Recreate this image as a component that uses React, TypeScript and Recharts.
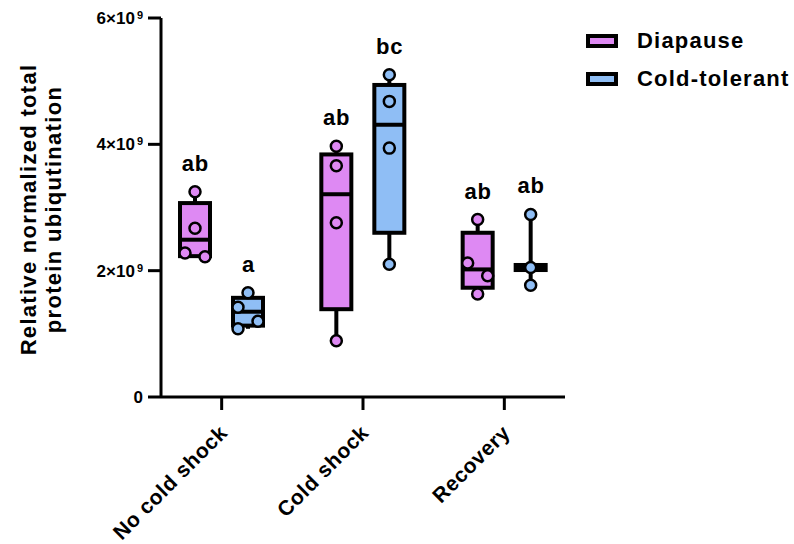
import React from 'react';
import { ComposedChart, Bar, XAxis, YAxis, Legend } from 'recharts';

const categories = ['No cold shock', 'Cold shock', 'Recovery'];
// all values in units of 10^9
const diapausePoints = [
  [3.25, 2.67, 2.28, 2.22],
  [3.97, 3.66, 2.76, 0.89],
  [2.81, 2.12, 1.92, 1.63],
];
const coldPoints = [
  [1.65, 1.42, 1.2, 1.08],
  [5.1, 4.68, 3.94, 2.1],
  [2.89, 2.05, 1.77],
];
const diapauseQ1 = [2.23, 1.39, 1.73];
const diapauseMedian = [2.49, 3.21, 2.02];
const diapauseQ3 = [3.07, 3.84, 2.6];
const coldQ1 = [1.13, 2.6, 2.01];
const coldMedian = [1.35, 4.31, 2.05];
const coldQ3 = [1.57, 4.94, 2.09];
const diapauseLetters = ['ab', 'ab', 'ab'];
const coldLetters = ['a', 'bc', 'ab'];
const yTicks = [0, 2, 4, 6];

const PINK = '#DE89F3';
const BLUE = '#8FBEF5';
const FONT = '"Liberation Sans", Arial, sans-serif';

const rows = categories.map((name, i) => ({
  name,
  d: { points: diapausePoints[i], q1: diapauseQ1[i], median: diapauseMedian[i], q3: diapauseQ3[i], letter: diapauseLetters[i] },
  c: { points: coldPoints[i], q1: coldQ1[i], median: coldMedian[i], q3: coldQ3[i], letter: coldLetters[i] },
}));

const range = (key: 'd' | 'c') => (row: any) => [Math.min(...row[key].points), Math.max(...row[key].points)];

const BoxShape = (props: any) => {
  const { x, y, width, height, payload, group, color } = props;
  const s = payload[group];
  const lo = Math.min(...s.points);
  const hi = Math.max(...s.points);
  const top = Math.min(y, y + height);
  const bottom = Math.max(y, y + height);
  const py = (v: number) => (hi === lo ? bottom : bottom - ((v - lo) / (hi - lo)) * (bottom - top));
  const cx = x + width / 2;

  // simple spread of overlapping dots, like Prism's scatter
  const pts = s.points.map((v: number) => ({ v, y: py(v), dx: 0 })).sort((a: any, b: any) => a.y - b.y);
  let cluster: any[] = [];
  const flush = () => {
    if (cluster.length > 1) cluster.forEach((p, k) => (p.dx = k % 2 === 0 ? -10 : 10));
    cluster = [];
  };
  pts.forEach((p: any, k: number) => {
    if (k > 0 && p.y - pts[k - 1].y >= 14.2) flush();
    cluster.push(p);
  });
  flush();

  return (
    <g>
      <line x1={cx} x2={cx} y1={py(hi)} y2={py(lo)} stroke="#000" strokeWidth={4} />
      <rect x={x} y={py(s.q3)} width={width} height={py(s.q1) - py(s.q3)} fill={color} stroke="#000" strokeWidth={4} />
      <line x1={x} x2={x + width} y1={py(s.median)} y2={py(s.median)} stroke="#000" strokeWidth={4} />
      {pts.map((p: any, k: number) => (
        <circle key={k} cx={cx + p.dx} cy={p.y} r={5.5} fill={color} stroke="#000" strokeWidth={2.5} />
      ))}
      <text x={cx + 0.4} y={py(hi) - 21} textAnchor="middle" fontSize={22} letterSpacing={0.8} fontWeight="bold" fontFamily={FONT} fill="#000">
        {s.letter}
      </text>
    </g>
  );
};

const XTick = ({ x, y, payload }: any) => {
  const ax = x + 7;
  const ay = y + 22;
  return (
    <text x={ax} y={ay} transform={`rotate(-45 ${ax} ${ay})`} textAnchor="end" fontSize={21} letterSpacing={0.6} fontWeight="bold" fontFamily={FONT} fill="#000">
      {payload.value}
    </text>
  );
};

const YTick = ({ x, y, payload }: any) => {
  const v = payload.value;
  return (
    <text x={x - 3} y={y + 6} textAnchor="end" fontSize={17} fontWeight="bold" fontFamily={FONT} fill="#000">
      {v === 0 ? '0' : (
        <>
          <tspan>{`${v}×10`}</tspan>
          <tspan dx={2} dy={-5} fontSize={11}>9</tspan>
        </>
      )}
    </text>
  );
};

const YTitle = ({ viewBox }: any) => {
  const cy = viewBox.y + viewBox.height / 2 + 2;
  return (
    <g fontFamily={FONT} fontWeight="bold" fontSize={22} letterSpacing={1.3} fill="#000">
      <text x={36} y={cy} transform={`rotate(-90 36 ${cy})`} textAnchor="middle">Relative normalized total</text>
      <text x={61} y={cy} transform={`rotate(-90 61 ${cy})`} textAnchor="middle">protein ubiqutination</text>
    </g>
  );
};

const legendItems = [
  { label: 'Diapause', color: PINK },
  { label: 'Cold-tolerant', color: BLUE },
];

const renderLegend = () => (
  <div style={{ fontFamily: FONT, fontWeight: 'bold', fontSize: 22, letterSpacing: 1.2, whiteSpace: 'nowrap', width: 208 }}>
    {legendItems.map((it) => (
      <div key={it.label} style={{ display: 'flex', alignItems: 'center', height: 38 }}>
        <svg width={32} height={14} style={{ flexShrink: 0, display: 'block' }}>
          <rect x={2} y={2} width={28} height={10} fill={it.color} stroke="#000" strokeWidth={4} />
        </svg>
        <span style={{ marginLeft: 19 }}>{it.label}</span>
      </div>
    ))}
  </div>
);

export default function App() {
  return (
    <div style={{ position: 'absolute', left: 0, top: 0 }}>
      <ComposedChart
        width={794}
        height={544}
        data={rows}
        margin={{ top: 18, right: 229, bottom: 0, left: 0 }}
        barSize={30}
        barGap={23}
      >
        <XAxis
          dataKey="name"
          height={147}
          interval={0}
          padding={{ left: -10, right: -10 }}
          tickSize={13}
          tickMargin={2}
          tick={<XTick />}
          tickLine={{ stroke: '#000', strokeWidth: 3 }}
          axisLine={{ stroke: '#000', strokeWidth: 3 }}
        />
        <XAxis xAxisId="top" dataKey="name" orientation="top" height={0} tick={false} tickLine={false} axisLine={{ stroke: '#000', strokeWidth: 3 }} />
        <YAxis
          domain={[0, 6]}
          ticks={yTicks}
          width={161}
          tickSize={13}
          tick={<YTick />}
          tickLine={{ stroke: '#000', strokeWidth: 3 }}
          axisLine={{ stroke: '#000', strokeWidth: 3 }}
          label={<YTitle />}
        />
        <YAxis yAxisId="right" orientation="right" width={0} tick={false} tickLine={false} axisLine={{ stroke: '#000', strokeWidth: 3 }} />
        <Legend
          layout="vertical"
          align="right"
          verticalAlign="top"
          content={renderLegend}
          wrapperStyle={{ position: 'absolute', left: 586, top: 22, width: 0, height: 0, overflow: 'visible' }}
        />
        <Bar name="Diapause" dataKey={range('d')} fill={PINK} isAnimationActive={false} shape={(p: any) => <BoxShape {...p} group="d" color={PINK} />} />
        <Bar name="Cold-tolerant" dataKey={range('c')} fill={BLUE} isAnimationActive={false} shape={(p: any) => <BoxShape {...p} group="c" color={BLUE} />} />
      </ComposedChart>
    </div>
  );
}
